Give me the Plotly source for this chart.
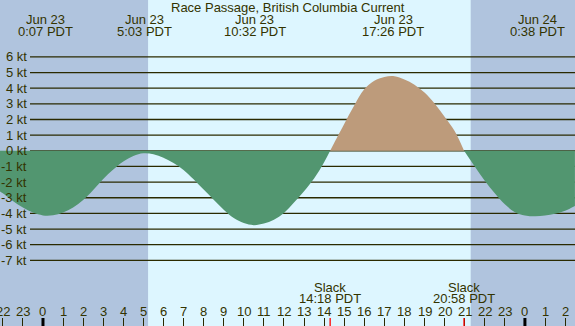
import plotly.graph_objects as go

# ---- data (hours relative to Jun 23 00:00 PDT, current in knots) ----
ebb1_hours = [-2.14, -2.0, -1.5, -1.0, -0.5, 0.0, 0.5, 1.0, 1.5, 2.0, 2.5, 3.0, 3.5, 4.0,
              4.5, 5.0, 5.5, 6.0, 6.5, 7.0, 7.5, 8.0, 8.5, 9.0, 9.5, 10.0, 10.5, 11.0,
              11.5, 12.0, 12.5, 13.0, 13.5, 14.0, 14.3]
ebb1_knots = [-2.6, -2.72, -3.2, -3.62, -3.95, -4.13, -4.12, -3.95, -3.62, -3.15, -2.5,
              -1.8, -1.2, -0.68, -0.33, -0.16, -0.22, -0.45, -0.78, -1.22, -1.82, -2.48,
              -3.13, -3.77, -4.3, -4.62, -4.75, -4.65, -4.4, -3.97, -3.3, -2.58, -1.77,
              -0.73, 0.0]
flood_hours = [14.3, 14.5, 15.0, 15.5, 16.0, 16.5, 17.0, 17.5, 18.0, 18.5, 19.0, 19.5,
               20.0, 20.5, 20.97]
flood_knots = [0.0, 0.5, 1.72, 2.9, 3.93, 4.48, 4.72, 4.77, 4.55, 4.22, 3.72, 3.03, 2.18,
               1.27, 0.0]
ebb2_hours = [20.97, 21.5, 22.0, 22.5, 23.0, 23.5, 24.0, 24.5, 25.0, 25.5, 26.0, 26.49]
ebb2_knots = [0.0, -1.0, -1.91, -2.72, -3.42, -3.92, -4.13, -4.19, -4.14, -4.03, -3.83, -3.52]

event_hours = [0.117, 5.05, 10.533, 17.433, 24.633]
event_dates = ["Jun 23", "Jun 23", "Jun 23", "Jun 23", "Jun 24"]
event_times = ["0:07 PDT", "5:03 PDT", "10:32 PDT", "17:26 PDT", "0:38 PDT"]

slack_hours = [14.3, 20.967]
slack_times = ["14:18 PDT", "20:58 PDT"]

sun_hours = [5.233, 21.3]          # sunrise, sunset
midnight_hours = [0, 24]
hour_ticks = list(range(-2, 27))
hour_labels = [str(h % 24) for h in hour_ticks]
knot_levels = list(range(-7, 7))
knot_labels = [f"{k} kt" for k in knot_levels]

title_text = "Race Passage, British Columbia Current"

# ---- style ----
W, H = 575, 326
X0, X1 = -2.141, 26.494
Y0, Y1 = -11.195, 9.636
NIGHT = "#b0c4de"
DAY = "#ddf6ff"
EBB = "#529670"
FLOOD = "#bd9b7b"
TXT = "#333300"
GRID = "#2a2a00"
FONT = "Liberation Sans"


def py(pix):
    return 1 - pix / H


fig = go.Figure()
for hx, ky, col in [(ebb1_hours, ebb1_knots, EBB), (flood_hours, flood_knots, FLOOD),
                    (ebb2_hours, ebb2_knots, EBB)]:
    fig.add_trace(go.Scatter(x=hx, y=ky, mode="lines", line=dict(width=0, shape="spline", smoothing=1),
                             fill="tozeroy", fillcolor=col, hoverinfo="skip"))

shapes = []
shapes.append(dict(type="rect", xref="x", yref="paper", x0=X0, x1=sun_hours[0], y0=0, y1=1,
                   fillcolor=NIGHT, line_width=0, layer="below"))
shapes.append(dict(type="rect", xref="x", yref="paper", x0=sun_hours[1], x1=X1, y0=0, y1=1,
                   fillcolor=NIGHT, line_width=0, layer="below"))
for k in knot_levels:
    shapes.append(dict(type="line", xref="paper", yref="y", x0=30 / W, x1=1, y0=k, y1=k,
                       line=dict(color=GRID, width=1.3), layer="below"))
for m in midnight_hours:
    shapes.append(dict(type="line", xref="x", yref="paper", x0=m, x1=m, y0=0, y1=8 / H,
                       line=dict(color="#000000", width=3)))
for s in slack_hours:
    shapes.append(dict(type="line", xref="x", yref="paper", x0=s, x1=s, y0=0, y1=8 / H,
                       line=dict(color="#ff0000", width=1.3)))

ann = []
f = dict(family=FONT, size=13, color=TXT)
ann.append(dict(x=0.5, xref="paper", y=py(7.5), yref="paper", text=title_text, showarrow=False,
                font=f, xanchor="center", yanchor="middle"))
for hx, d, t in zip(event_hours, event_dates, event_times):
    ann.append(dict(x=hx, xref="x", y=py(19.5), yref="paper", text=d, showarrow=False,
                    font=f, xanchor="center", yanchor="middle"))
    ann.append(dict(x=hx, xref="x", y=py(31.5), yref="paper", text=t, showarrow=False,
                    font=f, xanchor="center", yanchor="middle"))
for hx, t in zip(slack_hours, slack_times):
    ann.append(dict(x=hx, xref="x", y=py(287), yref="paper", text="Slack", showarrow=False,
                    font=f, xanchor="center", yanchor="middle"))
    ann.append(dict(x=hx, xref="x", y=py(298.5), yref="paper", text=t, showarrow=False,
                    font=f, xanchor="center", yanchor="middle"))
for hx, t in zip(hour_ticks, hour_labels):
    ann.append(dict(x=hx, xref="x", y=py(311.8), yref="paper", text=t, showarrow=False,
                    font=f, xanchor="center", yanchor="middle"))
for k, t in zip(knot_levels, knot_labels):
    ann.append(dict(x=28.5 / W, xref="paper", y=k, yref="y", text=t, showarrow=False,
                    font=f, xanchor="right", yanchor="middle"))

fig.update_layout(
    width=W, height=H, margin=dict(l=0, r=0, t=0, b=0),
    paper_bgcolor=DAY, plot_bgcolor=DAY, showlegend=False, hovermode=False,
    shapes=shapes, annotations=ann,
    xaxis=dict(range=[X0, X1], showgrid=False, zeroline=False, showline=False,
               tickvals=hour_ticks, ticks="inside", ticklen=8, tickcolor=GRID, tickwidth=1,
               showticklabels=False, fixedrange=True),
    yaxis=dict(range=[Y0, Y1], showgrid=False, zeroline=False, showline=False,
               showticklabels=False, fixedrange=True),
)
fig.write_html("out.html", config={"displayModeBar": False},
               post_script="document.body.style.margin='0';document.body.style.overflow='hidden';")
